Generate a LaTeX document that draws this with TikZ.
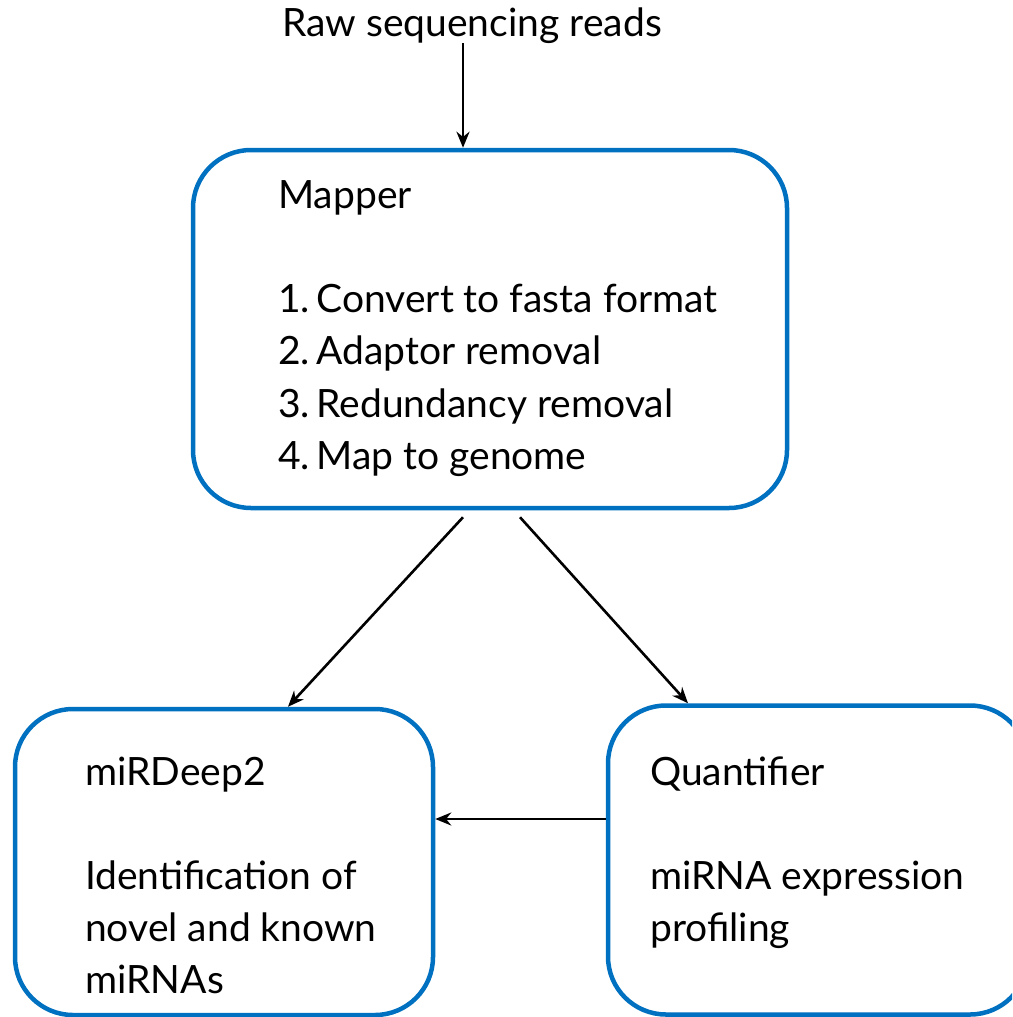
\documentclass[tikz,border=0pt]{standalone}
\usepackage{fontspec}
\setmainfont{Lato}
\usetikzlibrary{arrows.meta}
\definecolor{boxblue}{HTML}{0070C0}
\tikzset{
  stage/.style={draw=boxblue, line width=4.5pt, rounded corners=58pt, fill=white},
  txt/.style={inner sep=0pt, font=\fontsize{39}{46}\selectfont},
  label/.style={txt, anchor=base west},
  arr/.style={line width=2.6pt, -{Stealth[length=16pt,width=13pt]}}
}
\begin{document}
\begin{tikzpicture}[x=1pt,y=-1pt]
  \useasboundingbox (0,0) rectangle (1012,1017);
  \clip (0,0) rectangle (1012,1017);

  % processing stages
  \node[stage, minimum width=594pt, minimum height=358pt] (mapper) at (490,329) {};
  \node[stage, minimum width=418pt, minimum height=306pt] (mirdeep) at (224,862) {};
  \node[stage, minimum width=420pt, minimum height=309pt] (quant) at (818,860) {};

  % input
  \node[txt, anchor=base] (raw) at (472,36) {Raw sequencing reads};

  % Mapper text
  \node[label] (mt) at (278,208) {Mapper};
  \node[label] (m1) at (278,312) {1.\,Convert to fasta format};
  \node[label] (m2) at (278,364) {2.\,Adaptor removal};
  \node[label] (m3) at (278,417) {3.\,Redundancy removal};
  \node[label] (m4) at (278,469) {4.\,Map to genome};

  % miRDeep2 text
  \node[label] (dt) at (85,785) {miRDeep2};
  \node[label] (d1) at (85,889) {Identification of};
  \node[label] (d2) at (85,941) {novel and known};
  \node[label] (d3) at (85,993) {miRNAs};

  % Quantifier text
  \node[label] (qt) at (650,785) {Quantifier};
  \node[label] (q1) at (650,889) {miRNA expression};
  \node[label] (q2) at (650,941) {profiling};

  % connectors
  \draw[arr] ([xshift=-9pt]raw.south) -- ([xshift=-27pt]mapper.north);
  \draw[arr] ([xshift=-27pt,yshift=-7pt]mapper.south) -- ([xshift=64pt]mirdeep.north);
  \draw[arr] ([xshift=30pt,yshift=-7pt]mapper.south) -- ([xshift=-130pt]quant.north);
  \coordinate (qa) at ([yshift=41pt]quant.west);
  \draw[arr] (qa) -- (qa -| mirdeep.east);
\end{tikzpicture}
\end{document}
